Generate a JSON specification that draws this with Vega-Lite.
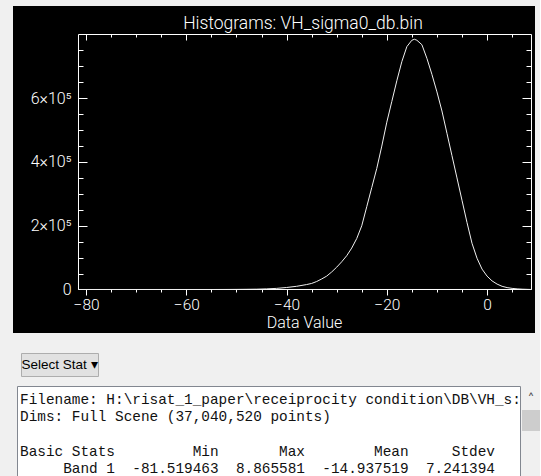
{
  "$schema": "https://vega.github.io/schema/vega-lite/v6.json",
  "background": "#f0f0f0",
  "padding": {"left": 13, "top": 6, "right": 0, "bottom": 0},
  "config": {
    "view": {"stroke": null},
    "axis": {"grid": false, "domain": false, "labelOverlap": false, "labelFlush": false}
  },
  "spacing": 19,
  "vconcat": [
    {
      "width": 522,
      "height": 327,
      "view": {"fill": "#000000", "stroke": null},
      "title": {"text": "Histograms: VH_sigma0_db.bin", "frame": "group", "anchor": "middle", "orient": "top", "offset": 0, "baseline": "middle", "dy": 35, "dx": 29, "color": "#ffffff", "font": "Roboto", "fontSize": 17.5, "fontWeight": 300},
      "resolve": {"axis": {"x": "independent", "y": "independent"}},
      "layer": [
        {
          "data": {"values": [{}]},
          "mark": {"type": "rule", "color": "#ffffff", "strokeWidth": 1},
          "encoding": {
            "x": {"datum": -81.52, "type": "quantitative",
              "scale": {"domain": [-94.5896, 9.5684], "nice": false, "zero": false},
              "axis": {"orient": "bottom", "offset": -44,
                "values": [-80,-60,-40,-20,0],
                "tickSize": 6, "tickColor": "#ffffff", "tickWidth": 1, "ticks": true,
                "labelColor": "#ffffff", "labelFont": "Roboto", "labelFontSize": 15.5, "labelFontWeight": 300, "labelPadding": 2,
                "title": "Data Value", "titleColor": "#ffffff", "titleFont": "Roboto", "titleFontSize": 16, "titleFontWeight": 300,
                "titleX": 291, "titleY": 33, "titleBaseline": "middle", "titleAlign": "center"}},
            "x2": {"datum": 8.87},
            "y": {"datum": 0, "type": "quantitative",
              "scale": {"domain": [-136471, 889412], "nice": false, "zero": false},
              "axis": {"orient": "left", "offset": -65,
                "values": [0,200000,400000,600000],
                "tickSize": -9, "tickColor": "#ffffff", "tickWidth": 1, "ticks": true,
                "labelExpr": "datum.value === 0 ? '0' : (datum.value / 100000) + '×10⁵'",
                "labelColor": "#ffffff", "labelFont": "Roboto", "labelFontSize": 16, "labelFontWeight": 300, "labelPadding": 16,
                "title": null}}
          }
        },
        {
          "data": {"values": [{}]},
          "mark": {"type": "rule", "color": "#ffffff", "strokeWidth": 1},
          "encoding": {
            "x": {"datum": -81.52, "type": "quantitative",
              "scale": {"domain": [-94.5896, 9.5684], "nice": false, "zero": false},
              "axis": {"orient": "top", "offset": -28,
                "values": [-80,-60,-40,-20,0],
                "tickSize": -6, "tickColor": "#ffffff", "tickWidth": 1, "ticks": true, "labels": false, "title": null}},
            "x2": {"datum": 8.87},
            "y": {"datum": 800000, "type": "quantitative",
              "scale": {"domain": [-136471, 889412], "nice": false, "zero": false},
              "axis": {"orient": "right", "offset": -4,
                "values": [0,200000,400000,600000],
                "tickSize": -9, "tickColor": "#ffffff", "tickWidth": 1, "ticks": true, "labels": false, "title": null}}
          }
        },
        {
          "data": {"values": [{}]},
          "mark": {"type": "rule", "color": "#ffffff", "strokeWidth": 1},
          "encoding": {
            "x": {"datum": -81.52, "type": "quantitative",
              "scale": {"domain": [-94.5896, 9.5684], "nice": false, "zero": false},
              "axis": {"orient": "bottom", "offset": -44,
                "values": [-75,-70,-65,-55,-50,-45,-35,-30,-25,-15,-10,-5,5],
                "tickSize": 3, "tickColor": "#ffffff", "tickWidth": 1, "ticks": true, "labels": false, "title": null}},
            "y": {"datum": 0, "type": "quantitative",
              "scale": {"domain": [-136471, 889412], "nice": false, "zero": false},
              "axis": {"orient": "left", "offset": -65,
                "values": [50000,100000,150000,250000,300000,350000,450000,500000,550000,650000,700000,750000],
                "tickSize": -5, "tickColor": "#ffffff", "tickWidth": 1, "ticks": true, "labels": false, "title": null}},
            "y2": {"datum": 800000}
          }
        },
        {
          "data": {"values": [{}]},
          "mark": {"type": "rule", "color": "#ffffff", "strokeWidth": 1},
          "encoding": {
            "x": {"datum": 8.87, "type": "quantitative",
              "scale": {"domain": [-94.5896, 9.5684], "nice": false, "zero": false},
              "axis": {"orient": "top", "offset": -28,
                "values": [-75,-70,-65,-55,-50,-45,-35,-30,-25,-15,-10,-5,5],
                "tickSize": -3, "tickColor": "#ffffff", "tickWidth": 1, "ticks": true, "labels": false, "title": null}},
            "y": {"datum": 0, "type": "quantitative",
              "scale": {"domain": [-136471, 889412], "nice": false, "zero": false},
              "axis": {"orient": "right", "offset": -4,
                "values": [50000,100000,150000,250000,300000,350000,450000,500000,550000,650000,700000,750000],
                "tickSize": -5, "tickColor": "#ffffff", "tickWidth": 1, "ticks": true, "labels": false, "title": null}},
            "y2": {"datum": 800000}
          }
        },
        {
          "data": {"values": [
            {"value": -81.52, "count": 0}, {"value": -75, "count": 0}, {"value": -70, "count": 0},
            {"value": -65, "count": 0}, {"value": -60, "count": 0}, {"value": -55, "count": 0},
            {"value": -52, "count": 100}, {"value": -50, "count": 300}, {"value": -48, "count": 600},
            {"value": -46, "count": 1000}, {"value": -44, "count": 2000}, {"value": -42, "count": 3500},
            {"value": -40, "count": 6300}, {"value": -38, "count": 10000}, {"value": -36, "count": 15500},
            {"value": -35, "count": 19000}, {"value": -34, "count": 25000}, {"value": -33, "count": 33000},
            {"value": -32, "count": 42000}, {"value": -31, "count": 55000}, {"value": -30, "count": 70000},
            {"value": -29, "count": 87000}, {"value": -28, "count": 106000}, {"value": -27, "count": 130000},
            {"value": -26, "count": 160000}, {"value": -25, "count": 200000}, {"value": -24, "count": 260000},
            {"value": -23, "count": 320000}, {"value": -22, "count": 380000}, {"value": -21, "count": 450000},
            {"value": -20, "count": 525000}, {"value": -19, "count": 590000}, {"value": -18, "count": 655000},
            {"value": -17, "count": 715000}, {"value": -16, "count": 762000}, {"value": -15, "count": 782000},
            {"value": -14.5, "count": 785000}, {"value": -14, "count": 782000}, {"value": -13, "count": 768000},
            {"value": -12, "count": 725000}, {"value": -11, "count": 675000}, {"value": -10, "count": 620000},
            {"value": -9, "count": 560000}, {"value": -8, "count": 490000}, {"value": -7, "count": 420000},
            {"value": -6, "count": 350000}, {"value": -5, "count": 280000}, {"value": -4, "count": 210000},
            {"value": -3, "count": 145000}, {"value": -2, "count": 98000}, {"value": -1, "count": 64000},
            {"value": 0, "count": 42000}, {"value": 1, "count": 27000}, {"value": 2, "count": 17000},
            {"value": 3, "count": 10000}, {"value": 4, "count": 6000}, {"value": 5, "count": 3500},
            {"value": 6, "count": 2000}, {"value": 7, "count": 1000}, {"value": 8, "count": 400},
            {"value": 8.87, "count": 0}
          ]},
          "mark": {"type": "line", "color": "#f0f0f0", "strokeWidth": 1, "interpolate": "linear"},
          "encoding": {
            "x": {"field": "value", "type": "quantitative",
              "scale": {"domain": [-94.5896, 9.5684], "nice": false, "zero": false}, "axis": null},
            "y": {"field": "count", "type": "quantitative",
              "scale": {"domain": [-136471, 889412], "nice": false, "zero": false}, "axis": null}
          }
        }
      ]
    },
    {
      "spacing": 8,
      "vconcat": [
        {
          "spacing": 6,
          "hconcat": [
            {"width": 1, "height": 23, "data": {"values": [{}]}, "mark": {"type": "text", "text": ""}, "encoding": {}},
            {"width": 77, "height": 23, "view": {"fill": "#e1e1e1", "stroke": "#adadad"},
              "data": {"values": [{"label": "Select Stat ▾"}]},
              "mark": {"type": "text", "font": "Liberation Sans Narrow, Liberation Sans, sans-serif", "fontSize": 13.5, "color": "#000000"},
              "encoding": {"text": {"field": "label"}}}
          ]
        },
        {
          "spacing": 2,
          "hconcat": [
            {"width": 1, "height": 95, "data": {"values": [{}]}, "mark": {"type": "text", "text": ""}, "encoding": {}},
            {
              "spacing": 0,
              "hconcat": [
                {"width": 503, "height": 95, "view": {"fill": "#ffffff", "stroke": "#828790"},
                  "data": {"values": [
                    {"row": 0, "line": "Filename: H:\\risat_1_paper\\receiprocity condition\\DB\\VH_s:"},
                    {"row": 1, "line": "Dims: Full Scene (37,040,520 points)"},
                    {"row": 3, "line": "Basic Stats\u00a0\u00a0\u00a0\u00a0\u00a0\u00a0\u00a0\u00a0\u00a0Min\u00a0\u00a0\u00a0\u00a0\u00a0\u00a0\u00a0Max\u00a0\u00a0\u00a0\u00a0\u00a0\u00a0\u00a0\u00a0Mean\u00a0\u00a0\u00a0\u00a0\u00a0Stdev"},
                    {"row": 4, "line": "\u200b\u00a0\u00a0\u00a0\u00a0\u00a0Band 1\u00a0\u00a0-81.519463\u00a0\u00a08.865581\u00a0\u00a0-14.937519\u00a0\u00a07.241394"}
                  ]},
                  "mark": {"type": "text", "align": "left", "baseline": "middle", "font": "Liberation Mono", "fontSize": 14.4, "color": "#111111", "dx": 3},
                  "encoding": {
                    "x": {"datum": 0, "type": "quantitative", "scale": {"domain": [0, 1]}, "axis": null},
                    "y": {"field": "row", "type": "quantitative", "scale": {"domain": [-0.8116, 4.6957], "reverse": true, "nice": false, "zero": false}, "axis": null},
                    "text": {"field": "line"}
                  }
                },
                {
                  "spacing": 0,
                  "vconcat": [
                    {"width": 18, "height": 24, "view": {"fill": "#f0f0f0"}, "data": {"values": [{"a": "˄"}]},
                      "mark": {"type": "text", "font": "DejaVu Sans", "fontSize": 14, "color": "#505050", "dy": 2},
                      "encoding": {"text": {"field": "a"}}},
                    {"width": 18, "height": 21, "view": {"fill": "#cdcdcd"}, "data": {"values": [{}]}, "mark": {"type": "text", "text": ""}, "encoding": {}},
                    {"width": 18, "height": 50, "view": {"fill": "#f0f0f0"}, "data": {"values": [{}]}, "mark": {"type": "text", "text": ""}, "encoding": {}}
                  ]
                }
              ]
            }
          ]
        }
      ]
    }
  ]
}
